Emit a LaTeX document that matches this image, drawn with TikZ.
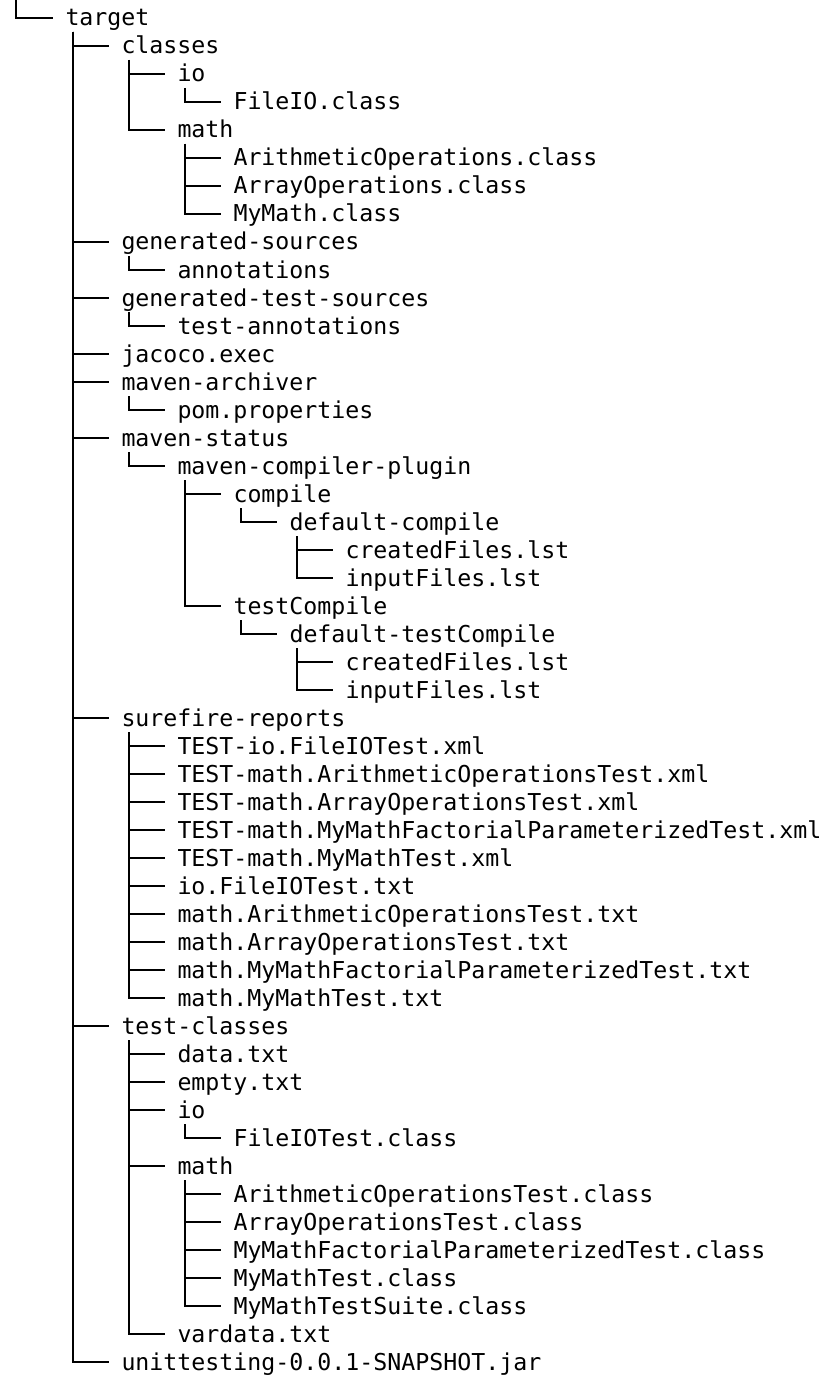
\documentclass[tikz,border=0pt]{standalone}
\usepackage{fontspec}
\newfontfamily\treefont{DejaVu Sans Mono}
\tikzset{
  entry/.style={anchor=base west, inner sep=0pt, outer sep=0pt, text height=22pt, text depth=6pt,
    font={\treefont\fontsize{23.25}{28}\selectfont}, text=black},
  conn/.style={line width=2pt, draw=black}
}
\newcommand\treeitem[4]{\node[entry] (#1) at ({9.5+56*#2},{-(26+28*#3)}) {#4};}
\newcommand\treelink[2]{\draw[conn] ([xshift=7.5pt]#1.south west) |- ([xshift=-13pt]#2.west);}
\begin{document}
\begin{tikzpicture}[x=1pt,y=1pt]
\useasboundingbox (0,0) rectangle (830,-1388);
\fill[white] (0,0) rectangle (830,-1388);
\coordinate (top) at (16,0);
\treeitem{t}{1}{0}{target}
\treeitem{c}{2}{1}{classes}
\treeitem{cio}{3}{2}{io}
\treeitem{ciof}{4}{3}{FileIO.class}
\treeitem{cm}{3}{4}{math}
\treeitem{cma}{4}{5}{ArithmeticOperations.class}
\treeitem{cmr}{4}{6}{ArrayOperations.class}
\treeitem{cmm}{4}{7}{MyMath.class}
\treeitem{gs}{2}{8}{generated-sources}
\treeitem{gsa}{3}{9}{annotations}
\treeitem{gts}{2}{10}{generated-test-sources}
\treeitem{gtsa}{3}{11}{test-annotations}
\treeitem{jac}{2}{12}{jacoco.exec}
\treeitem{ma}{2}{13}{maven-archiver}
\treeitem{map}{3}{14}{pom.properties}
\treeitem{ms}{2}{15}{maven-status}
\treeitem{msp}{3}{16}{maven-compiler-plugin}
\treeitem{mspc}{4}{17}{compile}
\treeitem{mspcd}{5}{18}{default-compile}
\treeitem{mspcda}{6}{19}{createdFiles.lst}
\treeitem{mspcdb}{6}{20}{inputFiles.lst}
\treeitem{mspt}{4}{21}{testCompile}
\treeitem{msptd}{5}{22}{default-testCompile}
\treeitem{msptda}{6}{23}{createdFiles.lst}
\treeitem{msptdb}{6}{24}{inputFiles.lst}
\treeitem{sr}{2}{25}{surefire-reports}
\treeitem{sra}{3}{26}{TEST-io.FileIOTest.xml}
\treeitem{srb}{3}{27}{TEST-math.ArithmeticOperationsTest.xml}
\treeitem{src}{3}{28}{TEST-math.ArrayOperationsTest.xml}
\treeitem{srd}{3}{29}{TEST-math.MyMathFactorialParameterizedTest.xml}
\treeitem{sre}{3}{30}{TEST-math.MyMathTest.xml}
\treeitem{srf}{3}{31}{io.FileIOTest.txt}
\treeitem{srg}{3}{32}{math.ArithmeticOperationsTest.txt}
\treeitem{srh}{3}{33}{math.ArrayOperationsTest.txt}
\treeitem{sri}{3}{34}{math.MyMathFactorialParameterizedTest.txt}
\treeitem{srj}{3}{35}{math.MyMathTest.txt}
\treeitem{tc}{2}{36}{test-classes}
\treeitem{tcd}{3}{37}{data.txt}
\treeitem{tce}{3}{38}{empty.txt}
\treeitem{tcio}{3}{39}{io}
\treeitem{tciof}{4}{40}{FileIOTest.class}
\treeitem{tcm}{3}{41}{math}
\treeitem{tcma}{4}{42}{ArithmeticOperationsTest.class}
\treeitem{tcmb}{4}{43}{ArrayOperationsTest.class}
\treeitem{tcmc}{4}{44}{MyMathFactorialParameterizedTest.class}
\treeitem{tcmd}{4}{45}{MyMathTest.class}
\treeitem{tcme}{4}{46}{MyMathTestSuite.class}
\treeitem{tcv}{3}{47}{vardata.txt}
\treeitem{jar}{2}{48}{unittesting-0.0.1-SNAPSHOT.jar}
% connectors
\draw[conn] (top) |- ([xshift=-13pt]t.west);
\foreach \p/\c in {t/c, c/cio, cio/ciof, c/cm, cm/cma, cm/cmr, cm/cmm,
  t/gs, gs/gsa, t/gts, gts/gtsa, t/jac, t/ma, ma/map, t/ms, ms/msp,
  msp/mspc, mspc/mspcd, mspcd/mspcda, mspcd/mspcdb, msp/mspt, mspt/msptd, msptd/msptda, msptd/msptdb,
  t/sr, sr/sra, sr/srb, sr/src, sr/srd, sr/sre, sr/srf, sr/srg, sr/srh, sr/sri, sr/srj,
  t/tc, tc/tcd, tc/tce, tc/tcio, tcio/tciof, tc/tcm, tcm/tcma, tcm/tcmb, tcm/tcmc, tcm/tcmd, tcm/tcme, tc/tcv,
  t/jar}
  {\treelink{\p}{\c}}
\end{tikzpicture}
\end{document}
